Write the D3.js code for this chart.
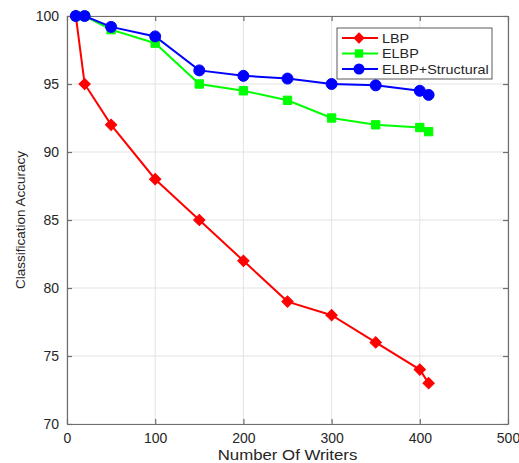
<!DOCTYPE html>
<html>
<head>
<meta charset="utf-8">
<script src="https://cdn.jsdelivr.net/npm/d3@7"></script>
<style>
body { margin: 0; background: #fff; }
text { font-family: "Liberation Sans", Arial, sans-serif; fill: #262626; }
</style>
</head>
<body>
<svg></svg>
<script>
var writers = [10, 20, 50, 100, 150, 200, 250, 300, 350, 400, 410];
var lbp = [100, 95, 92, 88, 85, 82, 79, 78, 76, 74, 73];
var elbp = [100, 100, 99, 98, 95, 94.5, 93.8, 92.5, 92, 91.8, 91.5];
var elbpStruct = [100, 100, 99.2, 98.5, 96, 95.6, 95.4, 95, 94.9, 94.5, 94.2];
var seriesNames = ["LBP", "ELBP", "ELBP+Structural"];
var xTicks = [0, 100, 200, 300, 400, 500];
var yTicks = [70, 75, 80, 85, 90, 95, 100];

var w = 519, h = 463,
    padL = 67, padR = 508, padT = 16, padB = 424;

var svg = d3.select("svg")
	.attr("width", w)
	.attr("height", h)

var x = d3.scaleLinear().domain([0, 500]).range([padL, padR])
var y = d3.scaleLinear().domain([70, 100]).range([padB, padT])

var colors = ["#ff0000", "#00ff00", "#0000ff"];
var shapes = [d3.symbolSquare, d3.symbolSquare, d3.symbolCircle];
var sizes = [64, 70, 95];
var rots = [45, 0, 0];
var allSeries = [lbp, elbp, elbpStruct];

// grid
svg.append("g").selectAll("line")
	.data(xTicks)
	.join("line")
	.attr("x1", function(d){ return x(d); })
	.attr("x2", function(d){ return x(d); })
	.attr("y1", padT).attr("y2", padB)
	.attr("stroke", "#e3e3e3").attr("stroke-width", 1)
svg.append("g").selectAll("line")
	.data(yTicks)
	.join("line")
	.attr("x1", padL).attr("x2", padR)
	.attr("y1", function(d){ return y(d); })
	.attr("y2", function(d){ return y(d); })
	.attr("stroke", "#e3e3e3").attr("stroke-width", 1)

// axes
var xAxis = d3.axisBottom(x).tickValues(xTicks).tickSizeInner(-5).tickSizeOuter(0).tickPadding(9)
var yAxis = d3.axisLeft(y).tickValues(yTicks).tickSizeInner(-5).tickSizeOuter(0).tickPadding(8)
var xTop = d3.axisTop(x).tickValues(xTicks).tickSizeInner(-5).tickSizeOuter(0).tickFormat("")
var yRight = d3.axisRight(y).tickValues(yTicks).tickSizeInner(-5).tickSizeOuter(0).tickFormat("")

var gx = svg.append("g").attr("transform", "translate(0," + padB + ")").call(xAxis)
var gy = svg.append("g").attr("transform", "translate(" + padL + ",0)").call(yAxis)
var gx2 = svg.append("g").attr("transform", "translate(0," + padT + ")").call(xTop)
var gy2 = svg.append("g").attr("transform", "translate(" + padR + ",0)").call(yRight)
;[gx, gy, gx2, gy2].forEach(function(g){
	g.selectAll("path, line").attr("stroke", "#6e6e6e").attr("stroke-width", 1.2)
	g.selectAll("text").style("font-size", "14px").attr("fill", "#262626")
})

// lines + markers
var line = d3.line()
	.x(function(d, i){ return x(writers[i]); })
	.y(function(d){ return y(d); })

allSeries.forEach(function(s, k){
	svg.append("path")
		.datum(s)
		.attr("d", line)
		.attr("fill", "none")
		.attr("stroke", colors[k])
		.attr("stroke-width", 2)
	svg.append("g").selectAll("path")
		.data(s)
		.join("path")
		.attr("d", d3.symbol().type(shapes[k]).size(sizes[k]))
		.attr("transform", function(d, i){
			return "translate(" + x(writers[i]) + "," + y(d) + ") rotate(" + rots[k] + ")";
		})
		.attr("fill", colors[k])
		.attr("stroke", colors[k])
})

// labels
svg.append("text")
	.attr("transform", "translate(" + ((padL + padR) / 2) + ",460) scale(1.2,1)")
	.attr("text-anchor", "middle")
	.style("font-size", "14px")
	.text("Number Of Writers")
svg.append("text")
	.attr("transform", "translate(25," + ((padT + padB) / 2) + ") rotate(-90)")
	.attr("text-anchor", "middle")
	.style("font-size", "13.5px")
	.text("Classification Accuracy")

// legend
var lg = svg.append("g").attr("transform", "translate(337,28)")
lg.append("rect")
	.attr("width", 155).attr("height", 51)
	.attr("fill", "#fff").attr("stroke", "#333").attr("stroke-width", 0.8)
seriesNames.forEach(function(name, k){
	var ly = 10 + k * 15.5;
	lg.append("line")
		.attr("x1", 5).attr("x2", 41)
		.attr("y1", ly).attr("y2", ly)
		.attr("stroke", colors[k]).attr("stroke-width", 2)
	lg.append("path")
		.attr("d", d3.symbol().type(shapes[k]).size(sizes[k]))
		.attr("transform", "translate(22," + ly + ") rotate(" + rots[k] + ")")
		.attr("fill", colors[k])
	lg.append("text")
		.attr("transform", "translate(45," + (ly + 4.5) + ") scale(1.15,1)")
		.style("font-size", "12.5px")
		.text(name)
})
</script>
</body>
</html>
